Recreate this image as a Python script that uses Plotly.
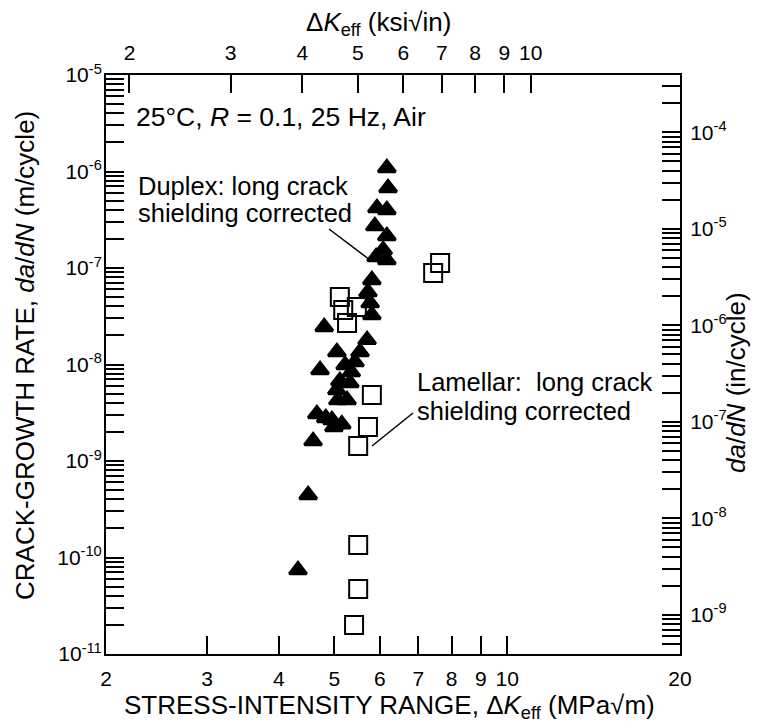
import numpy as np
import plotly.graph_objects as go

# ---- data ----
# Duplex: long crack, shielding corrected (filled triangles)
duplex_dk = [6.17, 6.20, 5.93, 6.17, 5.88, 6.17, 6.08, 5.91, 6.17, 5.81,
             5.72, 5.77, 5.81, 4.80, 5.70, 5.05, 5.54, 4.72, 5.35, 5.11,
             5.32, 5.05, 5.07, 5.26, 4.66, 4.83, 4.95, 5.15, 4.99, 4.59,
             4.50, 4.32, 5.22, 5.43]
duplex_dadn = [1.09e-6, 6.75e-7, 4.19e-7, 3.99e-7, 2.72e-7, 2.15e-7, 1.54e-7, 1.30e-7, 1.21e-7, 7.52e-8,
               5.63e-8, 4.33e-8, 3.26e-8, 2.45e-8, 1.80e-8, 1.35e-8, 1.35e-8, 8.77e-9, 8.35e-9, 6.75e-9,
               6.43e-9, 5.45e-9, 4.28e-9, 4.28e-9, 3.07e-9, 2.79e-9, 2.66e-9, 2.41e-9, 2.25e-9, 1.61e-9,
               4.45e-10, 7.41e-11, 9.9e-9, 1.06e-8]

# Lamellar: long crack, shielding corrected (open squares)
lamellar_dk = [7.64, 7.43, 5.11, 5.18, 5.26, 5.47, 5.81, 5.72, 5.50, 5.50, 5.50, 5.41]
lamellar_dadn = [1.13e-7, 8.87e-8, 5.00e-8, 3.67e-8, 2.69e-8, 3.94e-8, 4.83e-9, 2.25e-9,
                 1.43e-9, 1.35e-10, 4.72e-11, 2.0e-11]

bottom_ticks = [2, 3, 4, 5, 6, 7, 8, 9, 10, 20]
top_ticks = [2, 3, 4, 5, 6, 7, 8, 9, 10]
left_decades = [-11, -10, -9, -8, -7, -6, -5]
right_decades = [-9, -8, -7, -6, -5, -4]

MPA_PER_KSI = 1.0988
IN_PER_M = 39.37
x_lim = [2, 20]
y_lim = [1e-11, 1e-5]

FONT = "Liberation Sans, Arial, Helvetica, sans-serif"

# ---- layout (screen pixels; page body has an 8px margin) ----
OFF = 8
L, R, T, B = 106, 680, 75, 654          # plot area on screen
W, H = 760 - OFF, 724 - OFF              # figure fills the window to its edge


def xp(px):
    return (px - L) / (R - L)


def yp(py):
    return (B - py) / (B - T)


def minor_vals(lo, hi):
    vals = []
    for e in range(int(np.floor(np.log10(lo))) - 1, int(np.ceil(np.log10(hi))) + 1):
        for m in range(2, 10):
            v = m * 10.0 ** e
            if lo < v < hi:
                vals.append(v)
    return vals


fig = go.Figure()
fig.add_trace(go.Scatter(
    x=lamellar_dk, y=lamellar_dadn, mode="markers",
    marker=dict(symbol="square-open", size=18, color="black",
                line=dict(width=2, color="black")),
    hoverinfo="skip", name="Lamellar"))
fig.add_trace(go.Scatter(
    x=duplex_dk, y=duplex_dadn, mode="markers",
    marker=dict(symbol="triangle-up", size=15, color="black",
                line=dict(width=3, color="black")),
    hoverinfo="skip", name="Duplex"))
# invisible trace carrying the secondary (imperial) axes
fig.add_trace(go.Scatter(
    x=[v / MPA_PER_KSI for v in duplex_dk], y=[v * IN_PER_M for v in duplex_dadn],
    xaxis="x2", yaxis="y2", mode="markers", marker=dict(opacity=0),
    hoverinfo="skip", showlegend=False))

axis_common = dict(showline=True, linewidth=2, linecolor="black", showgrid=False,
                   zeroline=False, ticks="inside", ticklen=18, tickwidth=2,
                   tickcolor="black", tickfont=dict(family=FONT, size=21, color="black"))

y2_lo, y2_hi = y_lim[0] * IN_PER_M, y_lim[1] * IN_PER_M

fig.update_layout(
    width=W, height=H,
    margin=dict(l=L - OFF, r=W - (R - OFF), t=T - OFF, b=H - (B - OFF), pad=0),
    plot_bgcolor="white", paper_bgcolor="white", showlegend=False,
    font=dict(family=FONT, size=21, color="black"),
    xaxis=dict(type="log", range=[np.log10(x_lim[0]), np.log10(x_lim[1])],
               tickmode="array", tickvals=bottom_ticks,
               ticktext=[str(v) for v in bottom_ticks], ticklabelstandoff=5,
               **axis_common),
    yaxis=dict(type="log", range=[np.log10(y_lim[0]), np.log10(y_lim[1])],
               tickmode="array", tickvals=[10.0 ** e for e in left_decades],
               ticktext=["10<sup>%d</sup>" % e for e in left_decades], ticklabelstandoff=-2,
               minor=dict(tickmode="array", tickvals=minor_vals(*y_lim), ticks="inside",
                          ticklen=18, tickwidth=2, tickcolor="black", showgrid=False),
               **axis_common),
    xaxis2=dict(type="log", overlaying="x", side="top",
                range=[np.log10(x_lim[0] / MPA_PER_KSI), np.log10(x_lim[1] / MPA_PER_KSI)],
                tickmode="array", tickvals=top_ticks,
                ticktext=[str(v) for v in top_ticks], ticklabelstandoff=5,
                **axis_common),
    yaxis2=dict(type="log", overlaying="y", side="right",
                range=[np.log10(y2_lo), np.log10(y2_hi)],
                tickmode="array", tickvals=[10.0 ** e for e in right_decades],
                ticktext=["10<sup>%d</sup>" % e for e in right_decades], ticklabelstandoff=4,
                minor=dict(tickmode="array", tickvals=minor_vals(y2_lo, y2_hi), ticks="inside",
                           ticklen=18, tickwidth=2, tickcolor="black", showgrid=False),
                **axis_common),
)


def text(px, py, s, size=25.5, xanchor="left", angle=0):
    fig.add_annotation(x=xp(px), y=yp(py), xref="paper", yref="paper", text=s,
                       showarrow=False, xanchor=xanchor, yanchor="middle",
                       textangle=angle, font=dict(family=FONT, size=size, color="black"))


text(134, 117, "25°C, <i>R</i> = 0.1, 25 Hz, Air", size=26.5)
text(136, 186, "Duplex: long crack")
text(136, 213, "shielding corrected")
text(415, 382, "Lamellar:  long crack")
text(415, 411, "shielding corrected")

# axis titles
text(389, 706, "STRESS-INTENSITY RANGE, Δ<i>K</i><sub>eff</sub> (MPa√m)", size=26, xanchor="center")
text(378, 23, "Δ<i>K</i><sub>eff</sub> (ksi√in)", size=26, xanchor="center")
text(25, 356, "CRACK-GROWTH RATE, <i>da</i>/<i>dN</i> (m/cycle)", size=26, xanchor="center", angle=-90)
text(736, 383, "<i>da</i>/<i>dN</i> (in/cycle)", size=26, xanchor="center", angle=-90)

# leader lines
for (x0, y0, x1, y1) in [(329, 229, 370, 260), (413, 413, 372, 446)]:
    fig.add_shape(type="line", xref="paper", yref="paper",
                  x0=xp(x0), y0=yp(y0), x1=xp(x1), y1=yp(y1),
                  line=dict(color="black", width=1.5))

fig.write_html("out.html")
